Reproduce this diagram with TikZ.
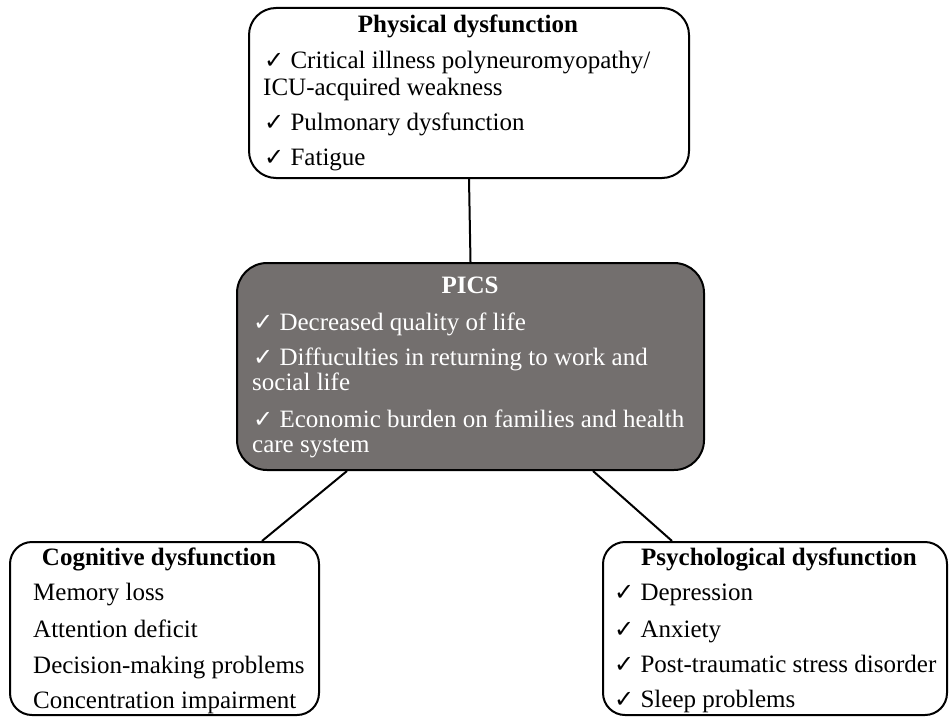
\documentclass[tikz,border=0pt]{standalone}
\usepackage{fontspec}
\setmainfont{Liberation Serif}
\newfontfamily\dejavu{DejaVu Sans}
\newcommand{\chk}{{\dejavu\fontsize{24}{24}\selectfont ✓}}
\definecolor{picsgray}{RGB}{115,111,110}
\begin{document}
\begin{tikzpicture}[x=1pt,y=-1pt,
  box/.style={draw=black, line width=2pt, inner sep=0pt, anchor=north west},
  txt/.style={anchor=base west, inner sep=0pt, font=\fontsize{25}{29}\selectfont},
  head/.style={anchor=base, inner sep=0pt, font=\fontsize{25}{29}\selectfont\bfseries},
  conn/.style={draw=black, line width=2pt}]
\useasboundingbox (0,0) rectangle (949,717);
% boxes
\node[box, rounded corners=27pt, minimum width=440pt, minimum height=170pt] (phys) at (248,7) {};
\node[box, rounded corners=30pt, fill=picsgray, minimum width=467pt, minimum height=207pt] (pics) at (236,262) {};
\node[box, rounded corners=22pt, minimum width=309pt, minimum height=173pt] (cog) at (9,541) {};
\node[box, rounded corners=22pt, minimum width=344pt, minimum height=173pt] (psy) at (602,541) {};
% connectors
\draw[conn] (phys.south) -- (pics.north);
\draw[conn] ([xshift=111pt]pics.south west) -- ([xshift=253pt]cog.north west);
\draw[conn] ([xshift=357pt]pics.south west) -- ([xshift=70pt]psy.north west);
% physical
\node[head] (physh) at (468,33) {Physical dysfunction};
\node[txt] (p1) at (264,68) {\chk{} Critical illness polyneuromyopathy/};
\node[txt] (p1b) at (263,95) {ICU-acquired weakness};
\node[txt] (p2) at (264,130) {\chk{} Pulmonary dysfunction};
\node[txt] (p3) at (264,165) {\chk{} Fatigue};
% pics
\node[head, text=white] (picsh) at (470,293) {PICS};
\node[txt, text=white] (c1) at (253,330) {\chk{} Decreased quality of life};
\node[txt, text=white] (c2) at (253,365) {\chk{} Diffuculties in returning to work and};
\node[txt, text=white] (c2b) at (252,390) {social life};
\node[txt, text=white] (c3) at (253,427) {\chk{} Economic burden on families and health};
\node[txt, text=white] (c3b) at (252,452) {care system};
% cognitive
\node[head] (cogh) at (159,565) {Cognitive dysfunction};
\node[txt] (g1) at (33,600) {Memory loss};
\node[txt] (g2) at (33,637) {Attention deficit};
\node[txt] (g3) at (33,673) {Decision-making problems};
\node[txt] (g4) at (33,708) {Concentration impairment};
% psychological
\node[head] (psyh) at (779,565) {Psychological dysfunction};
\node[txt] (s1) at (614,600) {\chk{} Depression};
\node[txt] (s2) at (614,637) {\chk{} Anxiety};
\node[txt] (s3) at (614,672) {\chk{} Post-traumatic stress disorder};
\node[txt] (s4) at (614,707) {\chk{} Sleep problems};
\end{tikzpicture}
\end{document}
